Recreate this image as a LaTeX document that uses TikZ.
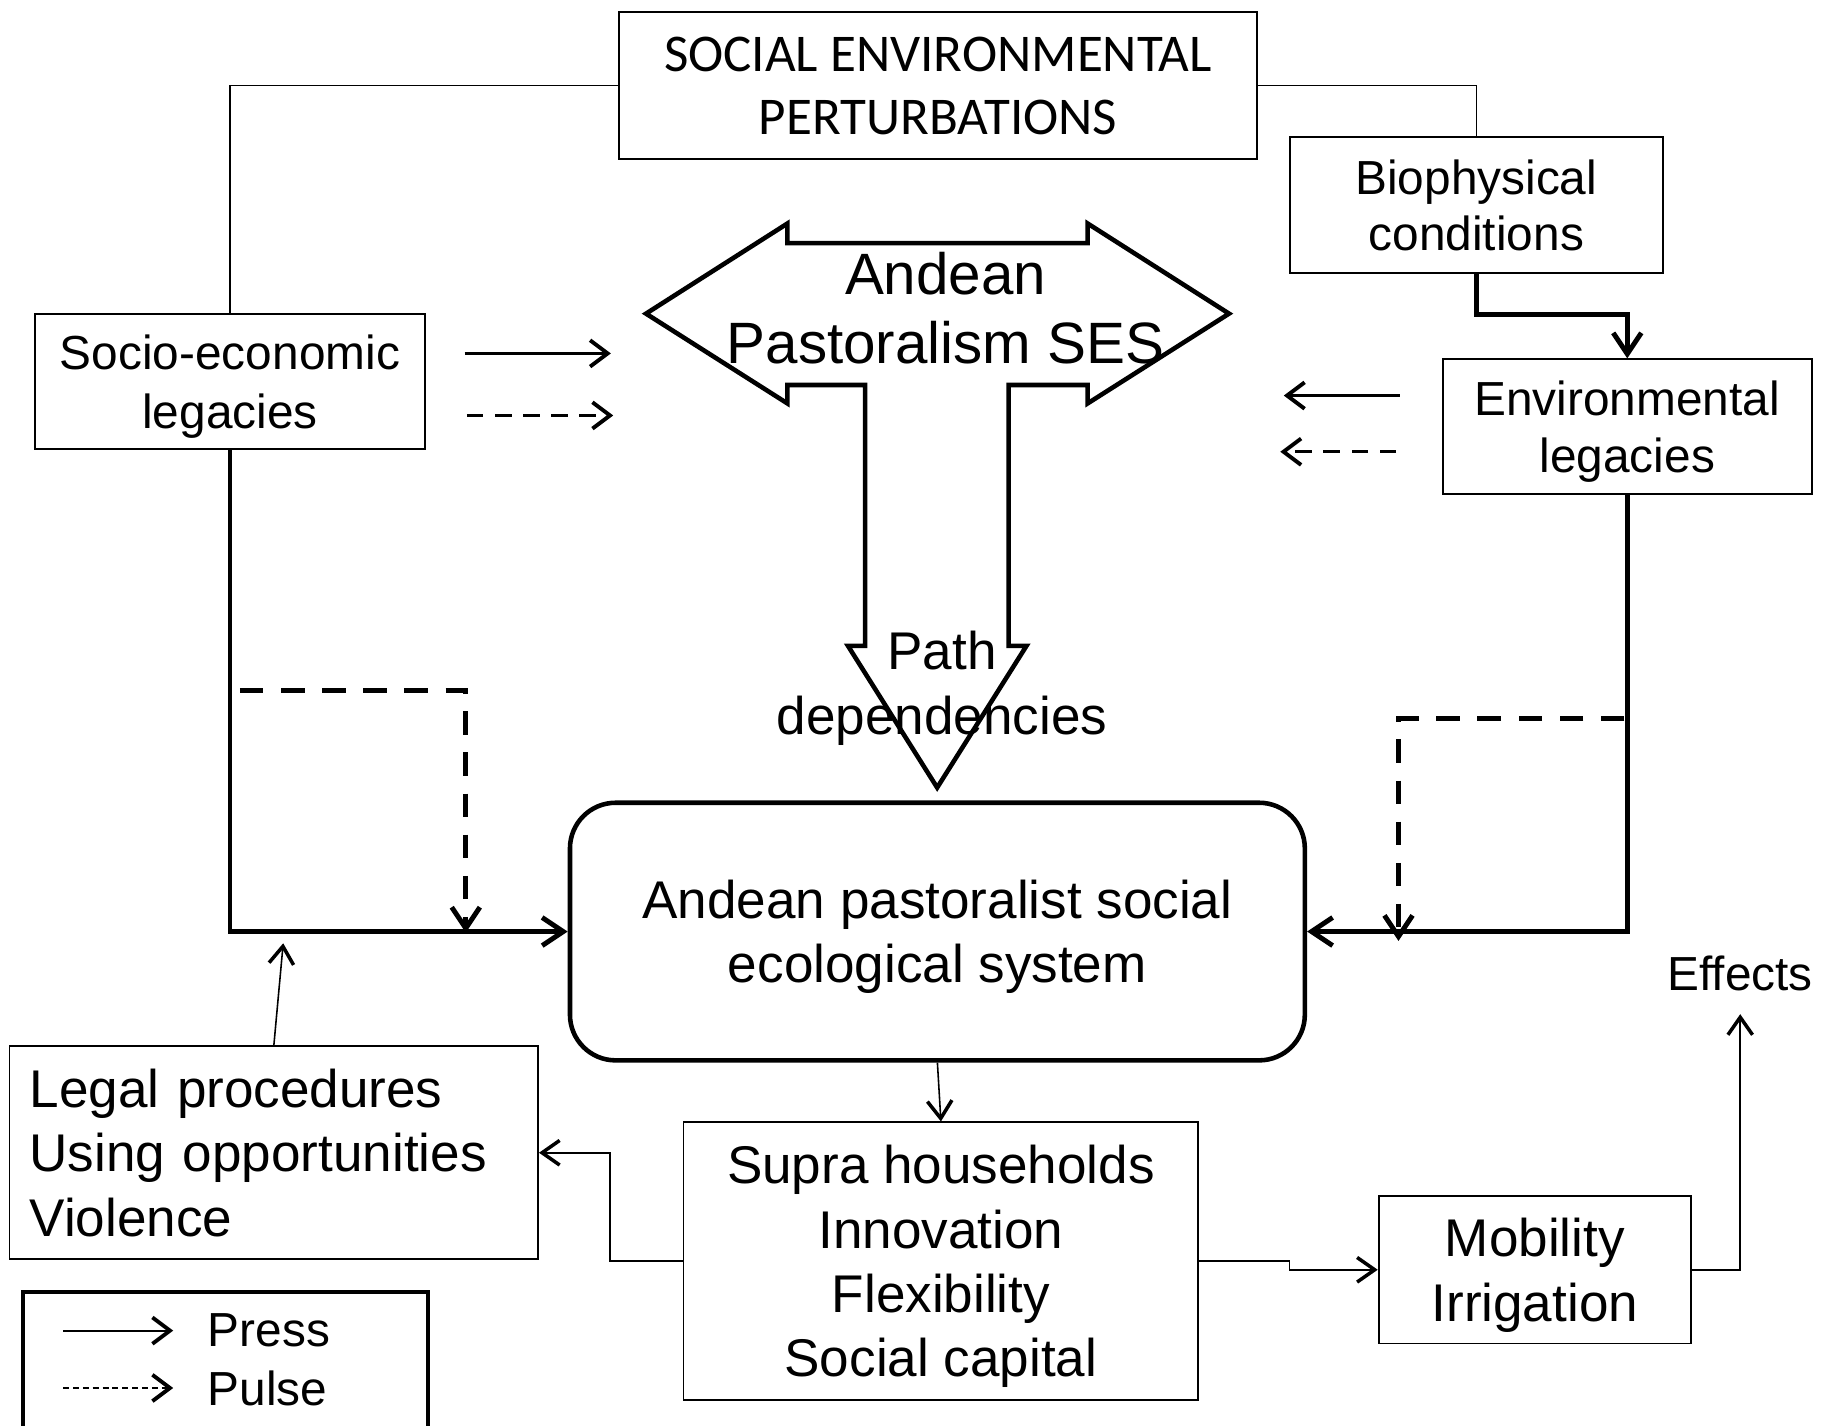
\documentclass[tikz,border=0pt]{standalone}
\usepackage{fontspec}
\setmainfont{Liberation Sans}
\newfontfamily\calfont{Carlito}
\usetikzlibrary{arrows.meta,calc,positioning}
\newcommand{\fsz}[2]{\fontsize{#1}{#2}\selectfont}

\begin{document}
\begin{tikzpicture}[x=0.3330pt,y=-0.3330pt,
    >={Straight Barb[length=6pt,width=8pt]},
    frame/.style={draw,line width=0.5pt,inner sep=0pt},
    box/.style={frame,align=center,text depth=0pt},
    small/.style={font=\fsz{13.6}{16.6}},
    big/.style={font=\fsz{15.1}{18.3}},
    thinline/.style={line width=0.45pt},
    thinarrow/.style={line width=0.45pt,-{Straight Barb[length=5pt,width=7pt,line width=1pt]}},
    press/.style={line width=1.4pt,->},
    pulse/.style={line width=1.4pt,->,dash pattern=on 6.7pt off 5pt},
    side/.style={line width=0.8pt,-{Straight Barb[length=5pt,width=7.5pt,line width=1.1pt]}},
    sidedash/.style={side,dash pattern=on 4.7pt off 3.3pt}]
  \useasboundingbox (0,0) rectangle (1568,1218);
  % boxes
  \node[box,minimum width=181.5pt,minimum height=42pt,font=\calfont\fsz{15.1}{18}] (pert) at (801.5,73) {SOCIAL ENVIRONMENTAL\\PERTURBATIONS};
  \node[box,small,minimum width=110.9pt,minimum height=38.6pt] (socio) at (196.5,326) {Socio-economic\\legacies};
  \node[box,small,minimum width=106.2pt,minimum height=38.6pt,font=\fsz{13.6}{16}] (bio) at (1261.5,175) {Biophysical\\conditions};
  \node[box,small,minimum width=104.9pt,minimum height=38.3pt,font=\fsz{13.6}{16}] (env) at (1390.5,364.5) {Environmental\\legacies};
  \node[box,big,line width=1.3pt,rounded corners=13pt,minimum width=209.1pt,minimum height=73.3pt] (apses) at (801,796) {Andean pastoralist social\\ecological system};
  \node[frame,big,align=left,inner xsep=5.7pt,text width=139pt,minimum height=60.6pt] (legal) at (234,985) {Legal procedures\\Using opportunities\\Violence};
  \node[box,big,minimum width=146.5pt,minimum height=78.9pt] (supra) at (804,1077.5) {Supra households\\Innovation\\Flexibility\\Social capital};
  \node[box,big,minimum width=88.9pt,minimum height=42pt] (mob) at (1311.5,1085) {Mobility\\Irrigation};
  \node[small] (effects) at (1487,832) {Effects};
  % T-shaped arrow
  \draw[line width=1.3pt] (552,268) -- (672.8,191) -- (672.8,207.7) -- (929.4,207.7) -- (929.4,191)
       -- (1050.2,268) -- (929.4,344.7) -- (929.4,329) -- (861.9,329) -- (861.9,551.9) -- (877.1,551.9)
       -- (800.8,673) -- (724.6,551.9) -- (739.3,551.9) -- (739.3,329) -- (672.8,329) -- (672.8,344.7) -- cycle;
  \node[align=center,font=\fsz{16.6}{19.6}] (ses) at (808,263) {Andean\\Pastoralism SES};
  \node[big,align=center] (pathdep) at (805,588) {Path\\dependencies};
  % top links
  \draw[thinline] (pert.west) -| (socio.north);
  \draw[thinline] (pert.east) -| (bio.north);
  \draw[press] (bio.south) -- ++(0,35) -| (env.north);
  % press and pulse into the system
  \draw[press] (socio.south) |- (apses.west);
  \draw[press] (env.south) |- (apses.east);
  \coordinate (sdash) at (205,590);
  \coordinate (sdashend) at (398,797);
  \draw[pulse] (sdash) -| (sdashend);
  \coordinate (edash) at (1388,614);
  \coordinate (edashend) at (1195,804);
  \draw[pulse] (edash) -| (edashend);
  % side arrows
  \coordinate (sp0) at (397,302); \coordinate (sp1) at (522,302);
  \coordinate (sq0) at (399,355); \coordinate (sq1) at (524,355);
  \draw[side] (sp0) -- (sp1);
  \draw[sidedash] (sq0) -- (sq1);
  \coordinate (ep0) at (1196,338); \coordinate (ep1) at (1097,338);
  \coordinate (eq0) at (1193,386); \coordinate (eq1) at (1094,386);
  \draw[side] (ep0) -- (ep1);
  \draw[sidedash] (eq0) -- (eq1);
  % outcomes
  \draw[thinarrow] (apses.south) -- (supra.north);
  \draw[thinarrow] (supra.west) -- ++(-62,0) |- (legal.east);
  \draw[thinarrow] (supra.east) -- ++(77,0) |- (mob.west);
  \draw[thinarrow] (mob.east) -| ($(effects.south)+(0,9)$);
  \coordinate (presshit) at (242,806);
  \draw[thinarrow] (legal.north) -- (presshit);
  % legend
  \node[draw,line width=1.2pt,minimum width=115.2pt,minimum height=42pt,anchor=north west,inner sep=0pt] (legend) at (18,1102) {};
  \coordinate (lp0) at (54,1137); \coordinate (lp1) at (148,1137);
  \coordinate (lq0) at (54,1186); \coordinate (lq1) at (148,1186);
  \draw[side,line width=0.6pt] (lp0) -- (lp1);
  \draw[side,line width=0.6pt,dash pattern=on 1.7pt off 1.1pt] (lq0) -- (lq1);
  \node[small,anchor=west,inner sep=0pt] (presslab) at (177,1137) {Press};
  \node[small,anchor=west,inner sep=0pt] (pulselab) at (177,1186) {Pulse};
\end{tikzpicture}
\end{document}
